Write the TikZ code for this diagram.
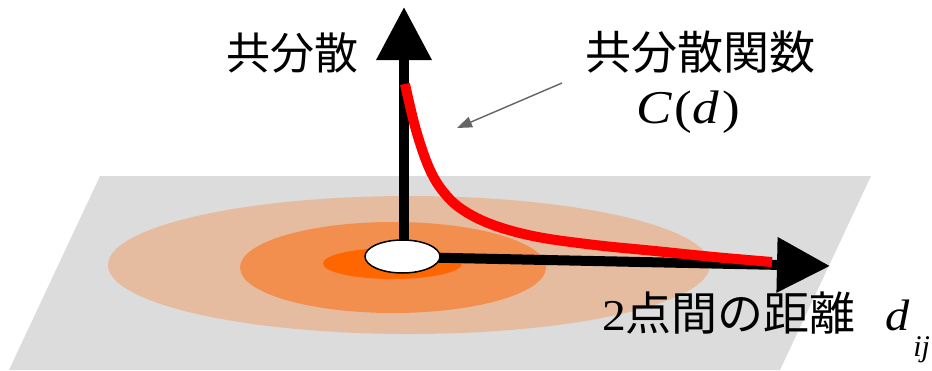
\documentclass[tikz,border=0pt]{standalone}
\usepackage{graphicx}
\usepackage{fontspec}
\setmainfont{Liberation Serif}
\newfontfamily\jp{Noto Sans CJK JP}
\usetikzlibrary{arrows.meta,shapes.geometric}
\definecolor{plane}{RGB}{220,220,220}
\definecolor{outerc}{RGB}{229,188,160}
\definecolor{midc}{RGB}{242,143,78}
\definecolor{innerc}{RGB}{255,102,0}
\definecolor{pointer}{RGB}{100,100,100}
\tikzset{
  axis/.style={line width=10pt,-{Triangle[length=53pt,width=53pt]}},
  curve/.style={line width=10pt,red},
  label/.style={inner sep=0pt,anchor=center},
  pointerline/.style={line width=1.4pt,pointer,-{Triangle[length=15pt,width=11pt]}},
}
\begin{document}
\begin{tikzpicture}[x=1pt,y=-1pt]
\useasboundingbox (0,0) rectangle (932,370);
% ground plane
\fill[plane] (100,176) -- (871,176) -- (780,370) -- (9,370) -- cycle;
% contour ellipses
\fill[outerc] (409,265) ellipse [x radius=301,y radius=69];
\fill[midc] (393,267.5) ellipse [x radius=153,y radius=45.5];
\fill[innerc] (392.5,263.5) ellipse [x radius=69.5,y radius=15.5];
% axes
\coordinate (oc) at (404,257);
\coordinate (ytip) at (404,7);
\coordinate (xtip) at (830,266);
\draw[axis] (oc) -- (ytip);
\draw[axis] (oc) -- (xtip);
% covariance curve
\draw[curve] plot[smooth,tension=0.6] coordinates {(405,84) (416,130) (430,170) (446,195) (466,212) (496,226) (538,237) (595,245) (655,251) (714,257) (772,262)};
% origin point
\node[ellipse,draw=black,line width=1.5pt,fill=white,minimum width=75pt,minimum height=33pt,inner sep=0pt] (o) at (402.5,256.5) {};
% labels
\node[label] (ylab) at (292,53) {\jp\fontsize{44}{50}\selectfont 共分散};
\node[label] (flab) at (700,52) {\jp\fontsize{46}{50}\selectfont 共分散関数};
\node[label] (cd) at (688,112) {\scalebox{1.13}[1]{\fontsize{47}{50}\selectfont\textit{C}\kern2pt(\textit{d}\kern3pt)}};
\node[label,anchor=base west] (xlab) at (602,330) {\fontsize{44}{50}\selectfont\scalebox{1.08}[1]{2}{\jp\fontsize{46}{50}\selectfont 点間の距離}\kern30pt\scalebox{1.1}[1]{\textit{d}}\kern3pt\raisebox{-26pt}{\fontsize{30}{30}\selectfont\textit{ij}}};
% pointer
\coordinate (pstart) at (562,83);
\coordinate (pend) at (457,128);
\draw[pointerline] (pstart) -- (pend);
\end{tikzpicture}
\end{document}
